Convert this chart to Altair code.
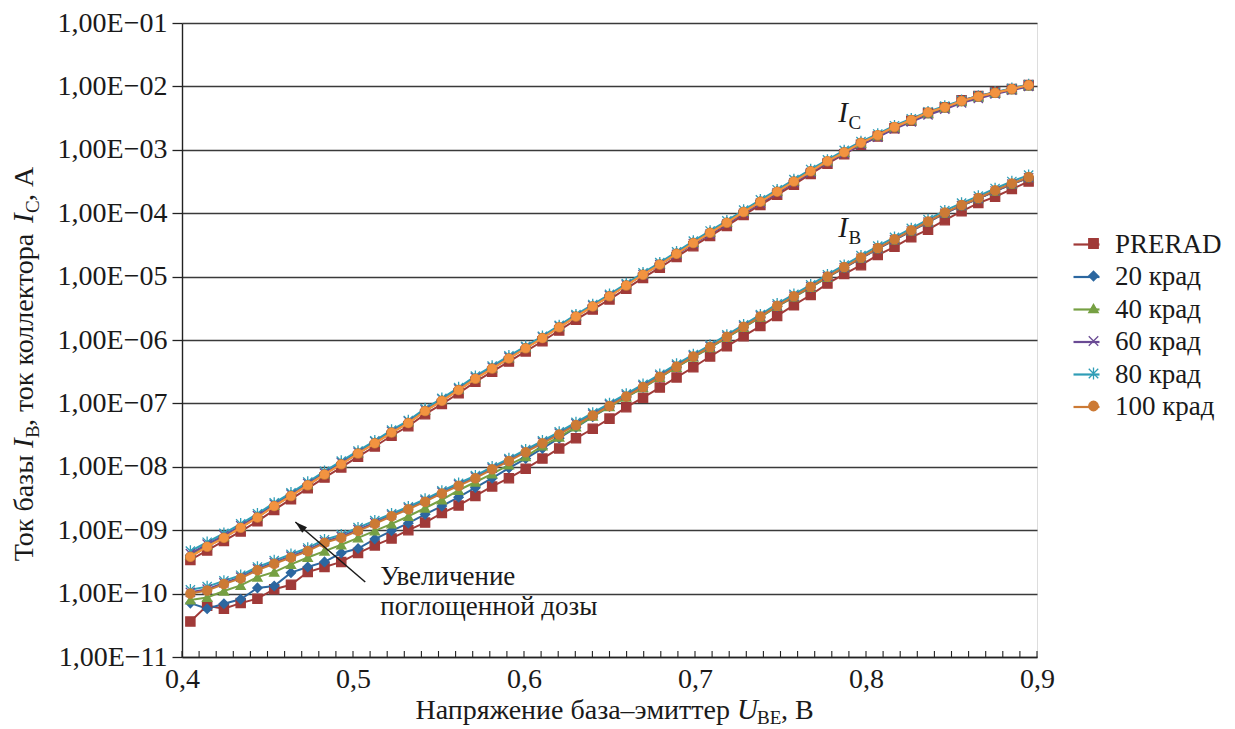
import altair as alt
import pandas as pd

# ---------------- data ----------------
SERIES = ["PRERAD", "20 крад", "40 крад", "60 крад", "80 крад", "100 крад"]

U_BE = [0.40, 0.41, 0.42, 0.43, 0.44, 0.45, 0.46, 0.47, 0.48, 0.49,
        0.50, 0.51, 0.52, 0.53, 0.54, 0.55, 0.56, 0.57, 0.58, 0.59,
        0.60, 0.61, 0.62, 0.63, 0.64, 0.65, 0.66, 0.67, 0.68, 0.69,
        0.70, 0.71, 0.72, 0.73, 0.74, 0.75, 0.76, 0.77, 0.78, 0.79,
        0.80, 0.81, 0.82, 0.83, 0.84, 0.85, 0.86, 0.87, 0.88, 0.89, 0.90]

# collector current, log10(A)
IC_PRERAD = [-9.47, -9.32, -9.17, -9.02, -8.86, -8.68, -8.51, -8.34, -8.17, -8.01,
             -7.84, -7.68, -7.51, -7.36, -7.17, -7.01, -6.84, -6.66, -6.50, -6.34,
             -6.18, -6.02, -5.85, -5.68, -5.52, -5.36, -5.19, -5.02, -4.86, -4.69,
             -4.52, -4.36, -4.20, -4.03, -3.87, -3.71, -3.55, -3.38, -3.22, -3.07,
             -2.92, -2.79, -2.66, -2.54, -2.42, -2.33, -2.22, -2.15, -2.09, -2.04, -1.98]
IC_20 = [-9.40, -9.25, -9.10, -8.95, -8.79, -8.61, -8.45, -8.28, -8.11, -7.95,
         -7.78, -7.62, -7.45, -7.30, -7.11, -6.95, -6.78, -6.60, -6.44, -6.28,
         -6.12, -5.96, -5.79, -5.62, -5.46, -5.30, -5.13, -4.96, -4.80, -4.63,
         -4.46, -4.30, -4.14, -3.97, -3.81, -3.65, -3.49, -3.33, -3.18, -3.03,
         -2.89, -2.77, -2.64, -2.53, -2.42, -2.33, -2.23, -2.16, -2.10, -2.04, -1.98]
IC_40 = [-9.39, -9.24, -9.10, -8.94, -8.78, -8.61, -8.44, -8.28, -8.11, -7.94,
         -7.78, -7.61, -7.45, -7.29, -7.11, -6.94, -6.78, -6.60, -6.44, -6.28,
         -6.12, -5.96, -5.79, -5.62, -5.46, -5.30, -5.13, -4.96, -4.80, -4.63,
         -4.46, -4.30, -4.14, -3.97, -3.81, -3.65, -3.49, -3.34, -3.18, -3.04,
         -2.90, -2.78, -2.65, -2.54, -2.43, -2.34, -2.24, -2.17, -2.11, -2.05, -1.99]
IC_60 = [-9.37, -9.22, -9.08, -8.93, -8.77, -8.59, -8.43, -8.26, -8.10, -7.93,
         -7.77, -7.60, -7.44, -7.28, -7.10, -6.93, -6.77, -6.59, -6.43, -6.27,
         -6.11, -5.95, -5.78, -5.62, -5.46, -5.30, -5.13, -4.97, -4.81, -4.65,
         -4.48, -4.33, -4.17, -4.00, -3.84, -3.68, -3.52, -3.36, -3.20, -3.06,
         -2.92, -2.80, -2.67, -2.56, -2.45, -2.36, -2.26, -2.19, -2.12, -2.06, -2.00]
IC_80 = [-9.33, -9.19, -9.05, -8.90, -8.74, -8.57, -8.41, -8.24, -8.07, -7.91,
         -7.75, -7.59, -7.42, -7.27, -7.08, -6.92, -6.75, -6.57, -6.41, -6.25,
         -6.10, -5.94, -5.77, -5.60, -5.44, -5.28, -5.11, -4.94, -4.78, -4.61,
         -4.44, -4.28, -4.12, -3.95, -3.79, -3.63, -3.47, -3.31, -3.16, -3.01,
         -2.87, -2.75, -2.62, -2.51, -2.40, -2.31, -2.22, -2.15, -2.09, -2.03, -1.97]
IC_100 = [-9.42, -9.26, -9.12, -8.96, -8.80, -8.62, -8.46, -8.29, -8.12, -7.96,
          -7.79, -7.63, -7.46, -7.31, -7.12, -6.96, -6.79, -6.61, -6.45, -6.29,
          -6.13, -5.97, -5.80, -5.63, -5.47, -5.31, -5.14, -4.97, -4.81, -4.64,
          -4.47, -4.31, -4.15, -3.98, -3.82, -3.66, -3.50, -3.34, -3.18, -3.04,
          -2.89, -2.77, -2.64, -2.53, -2.41, -2.33, -2.23, -2.16, -2.10, -2.04, -1.98]

# base current, log10(A)
IB_PRERAD = [-10.44, -10.19, -10.24, -10.15, -10.08, -9.93, -9.86, -9.66, -9.58, -9.50,
             -9.36, -9.24, -9.13, -9.00, -8.88, -8.73, -8.61, -8.46, -8.31, -8.18,
             -8.03, -7.87, -7.71, -7.55, -7.40, -7.24, -7.06, -6.91, -6.75, -6.59,
             -6.43, -6.26, -6.10, -5.94, -5.78, -5.62, -5.45, -5.29, -5.11, -4.96,
             -4.82, -4.66, -4.53, -4.38, -4.26, -4.11, -3.97, -3.84, -3.74, -3.62, -3.50]
IB_20 = [-10.15, -10.24, -10.16, -10.09, -9.91, -9.88, -9.67, -9.58, -9.50, -9.36,
         -9.29, -9.14, -9.01, -8.89, -8.75, -8.62, -8.48, -8.33, -8.18, -8.02,
         -7.87, -7.71, -7.55, -7.38, -7.21, -7.05, -6.90, -6.75, -6.59, -6.43,
         -6.27, -6.12, -5.96, -5.80, -5.64, -5.47, -5.32, -5.17, -5.01, -4.86,
         -4.71, -4.56, -4.42, -4.28, -4.14, -4.00, -3.88, -3.77, -3.65, -3.54, -3.44]
IB_40 = [-10.10, -10.06, -9.96, -9.87, -9.74, -9.66, -9.54, -9.43, -9.33, -9.23,
         -9.12, -9.01, -8.90, -8.78, -8.65, -8.52, -8.37, -8.24, -8.11, -7.97,
         -7.84, -7.67, -7.53, -7.37, -7.20, -7.05, -6.90, -6.75, -6.59, -6.43,
         -6.27, -6.12, -5.96, -5.80, -5.64, -5.47, -5.32, -5.17, -5.01, -4.86,
         -4.71, -4.56, -4.42, -4.28, -4.14, -4.00, -3.88, -3.77, -3.65, -3.54, -3.44]
IB_60 = [-9.98, -9.93, -9.83, -9.74, -9.61, -9.51, -9.41, -9.31, -9.18, -9.10,
         -8.99, -8.88, -8.76, -8.65, -8.53, -8.40, -8.28, -8.16, -8.02, -7.89,
         -7.75, -7.61, -7.47, -7.32, -7.17, -7.02, -6.87, -6.72, -6.56, -6.40,
         -6.25, -6.10, -5.94, -5.78, -5.62, -5.46, -5.31, -5.16, -5.00, -4.86,
         -4.71, -4.56, -4.42, -4.28, -4.14, -4.00, -3.88, -3.77, -3.65, -3.54, -3.44]
IB_80 = [-9.94, -9.89, -9.80, -9.71, -9.58, -9.48, -9.38, -9.28, -9.15, -9.07,
         -8.96, -8.85, -8.74, -8.63, -8.51, -8.38, -8.26, -8.14, -8.00, -7.87,
         -7.73, -7.59, -7.45, -7.30, -7.15, -7.00, -6.85, -6.70, -6.54, -6.38,
         -6.23, -6.08, -5.92, -5.76, -5.60, -5.43, -5.28, -5.13, -4.97, -4.82,
         -4.67, -4.52, -4.38, -4.24, -4.10, -3.96, -3.84, -3.73, -3.61, -3.50, -3.40]
IB_100 = [-10.00, -9.95, -9.85, -9.76, -9.63, -9.53, -9.43, -9.33, -9.20, -9.12,
          -9.01, -8.90, -8.78, -8.67, -8.55, -8.42, -8.30, -8.18, -8.04, -7.91,
          -7.77, -7.63, -7.49, -7.34, -7.19, -7.04, -6.89, -6.74, -6.58, -6.42,
          -6.26, -6.11, -5.95, -5.79, -5.63, -5.46, -5.31, -5.16, -5.00, -4.85,
          -4.70, -4.55, -4.41, -4.27, -4.13, -3.99, -3.87, -3.76, -3.64, -3.53, -3.43]

IC_LOG = dict(zip(SERIES, [IC_PRERAD, IC_20, IC_40, IC_60, IC_80, IC_100]))
IB_LOG = dict(zip(SERIES, [IB_PRERAD, IB_20, IB_40, IB_60, IB_80, IB_100]))

# annotations (data coordinates)
ANN_I_X = [0.7865, 0.7865]
ANN_I_LOG = [-2.56, -4.37]
ANN_SUB_X = [0.7925, 0.7925]
ANN_SUB_LOG = [-2.67, -4.49]
ANN_SUB_TEXT = ["C", "B"]
NOTE_TEXT = ["Увеличение", "поглощенной дозы"]
NOTE_X = [0.5133, 0.5133]
NOTE_LOG = [-9.87, -10.33]
ARROW_X = [0.5043, 0.4626]
ARROW_LOG = [-9.817, -8.870]

# ---------------- styling ----------------
FONT = "Liberation Serif"
TXT = "#1a1a1a"
AX = "#222222"
GRID = "#3a3a3a"
COLORS = ["#A03A38", "#2C67A0", "#76A043", "#6A4B94", "#2F9DB6", "#CC7A35"]
IC_ORANGE = "#F29340"
X_PATH = "M-1,-1L1,1M-1,1L1,-1"
AST_PATH = "M-1,-1L1,1M-1,1L1,-1M0,-1.25L0,1.25"
SHAPES = ["square", "diamond", "triangle-up", X_PATH, AST_PATH, "circle"]
W, H = 855, 634

rows = []
for curve, table in (("IC", IC_LOG), ("IB", IB_LOG)):
    for k, s in enumerate(SERIES):
        for u, e in zip(U_BE, table[s]):
            rows.append({"U": u, "I": 10.0 ** e, "series": s, "series_l": s,
                         "curve": curve, "k": k})
df = pd.DataFrame(rows)

XSCALE = alt.Scale(domain=[0.395, 0.905], nice=False, zero=False)
YSCALE = alt.Scale(type="log", domain=[1e-11, 1e-1], nice=False)
XLAB = [round(0.395 + 0.102 * k, 4) for k in range(6)]
TICK_X = [round(0.395 + 0.0102 * j, 4) for j in range(51)]
YTICKS = [1e-11, 1e-10, 1e-9, 1e-8, 1e-7, 1e-6, 1e-5, 1e-4, 1e-3, 1e-2, 1e-1]

X = alt.X("U:Q", scale=XSCALE, axis=alt.Axis(
    values=XLAB, title=None, grid=False, ticks=False,
    labelExpr="replace(format(0.4 + round((datum.value - 0.395) / 0.102) / 10, '.1f'), '.', ',')",
    labelFont=FONT, labelFontSize=28, labelColor=TXT, labelPadding=8,
    labelFlush=False, labelOverlap=False, domainColor=AX, domainWidth=1.4))
Y = alt.Y("I:Q", scale=YSCALE, axis=alt.Axis(
    values=YTICKS, title=None, grid=True, gridColor=GRID, gridWidth=1.3,
    tickSize=10, tickColor=AX, tickWidth=1.3,
    labelExpr="'1,00E\u2212' + (round(-log(datum.value)/LN10) < 10 ? '0' : '') + round(-log(datum.value)/LN10)",
    labelFont=FONT, labelFontSize=28, labelColor=TXT, labelPadding=5,
    labelFlush=False, labelOverlap=False, domainColor=AX, domainWidth=1.4))

base = alt.Chart(df)

LEG_COMMON = dict(title=None, orient="none", legendY=207, labelFont=FONT,
                  labelFontSize=27, labelColor=TXT, rowPadding=4.5)

lines = base.mark_line(strokeWidth=2).encode(
    x=X, y=Y,
    color=alt.Color("series_l:N", sort=SERIES, scale=alt.Scale(range=COLORS),
                    legend=alt.Legend(legendX=890, symbolType="stroke", symbolSize=676,
                                      symbolStrokeWidth=2.2, labelOffset=14, **LEG_COMMON)),
    detail="curve:N",
)

LEG2 = alt.Legend(legendX=898, symbolSize=90, symbolStrokeWidth=1.3, labelOffset=14,
                  labelExpr="' '", **LEG_COMMON)
points = base.mark_point(filled=False, size=85, strokeWidth=1.3, opacity=1).encode(
    x=X, y=Y,
    shape=alt.Shape("series:N", scale=alt.Scale(domain=SERIES, range=SHAPES), legend=LEG2),
    stroke=alt.Stroke("series:N", scale=alt.Scale(domain=SERIES, range=COLORS), legend=LEG2),
    fill=alt.Fill("series:N", scale=alt.Scale(domain=SERIES, range=COLORS), legend=LEG2),
    order=alt.Order("k:Q"),
)

ic100 = base.transform_filter("datum.curve == 'IC' && datum.k == 5")
ic100_line = ic100.mark_line(color=IC_ORANGE, strokeWidth=2).encode(x=X, y=Y)
ic100_pts = ic100.mark_point(shape="circle", filled=True, color=IC_ORANGE,
                             size=85, opacity=1).encode(x=X, y=Y)

ticks = alt.Chart(pd.DataFrame({"t": TICK_X})).mark_rule(color=AX, strokeWidth=1.1).encode(
    x=alt.X("t:Q", scale=XSCALE), y=alt.value(H - 6), y2=alt.value(H))

# I_C / I_B labels
ann_i = alt.Chart(pd.DataFrame({"x": ANN_I_X, "y": [10.0 ** v for v in ANN_I_LOG]})).mark_text(
    text="I", font=FONT, fontSize=29, fontStyle="italic", align="left",
    baseline="alphabetic", color=TXT).encode(x=alt.X("x:Q", scale=XSCALE), y=alt.Y("y:Q", scale=YSCALE))
ann_sub = alt.Chart(pd.DataFrame({"x": ANN_SUB_X, "y": [10.0 ** v for v in ANN_SUB_LOG],
                                  "t": ANN_SUB_TEXT})).mark_text(
    font=FONT, fontSize=19, align="left", baseline="alphabetic", color=TXT).encode(
    x=alt.X("x:Q", scale=XSCALE), y=alt.Y("y:Q", scale=YSCALE), text="t:N")

note = alt.Chart(pd.DataFrame({"x": NOTE_X, "y": [10.0 ** v for v in NOTE_LOG],
                               "t": NOTE_TEXT})).mark_text(
    font=FONT, fontSize=27, align="left", baseline="alphabetic", color=TXT).encode(
    x=alt.X("x:Q", scale=XSCALE), y=alt.Y("y:Q", scale=YSCALE), text="t:N")

arrow_df = pd.DataFrame({"x": ARROW_X[:1], "y": [10.0 ** ARROW_LOG[0]],
                         "x2": ARROW_X[1:], "y2": [10.0 ** ARROW_LOG[1]]})
arrow_line = alt.Chart(arrow_df).mark_rule(color=TXT, strokeWidth=1.5).encode(
    x=alt.X("x:Q", scale=XSCALE), y=alt.Y("y:Q", scale=YSCALE), x2="x2:Q", y2="y2:Q")
arrow_head = alt.Chart(arrow_df).mark_point(
    shape="M0,0L0.6,2L-0.6,2Z", filled=True, color=TXT, size=150, opacity=1, angle=310.6).encode(
    x=alt.X("x2:Q", scale=XSCALE), y=alt.Y("y2:Q", scale=YSCALE))

# axis titles with italic symbols and subscripts (pixel positions in the plot frame)
TITLE_NORMAL = pd.DataFrame({
    "t": ["Напряжение база\u2013эмиттер", "BE", ", В",
          "Ток базы", "B", ", ток коллектора", "C", ", А"],
    "px": [548, 575, 599, -149, -143, -149, -143, -149],
    "py": [696, 701, 696, 432, 415, 403, 190, 178],
    "a": [0, 0, 0, 270, 270, 270, 270, 270],
    "s": [28, 19, 28, 28, 19, 28, 19, 28],
    "al": ["right", "left", "left", "right", "left", "left", "left", "left"],
})
TITLE_ITALIC = pd.DataFrame({
    "t": ["U", "I", "I"],
    "px": [555, -149, -149],
    "py": [696, 425, 200],
    "a": [0, 270, 270],
    "s": [29, 29, 29],
    "al": ["left", "left", "left"],
})


def title_layer(d, italic, align):
    dd = d[d["al"] == align]
    return alt.Chart(dd).mark_text(
        font=FONT, baseline="alphabetic", align=align, color=TXT,
        fontStyle="italic" if italic else "normal").encode(
        x=alt.X("px:Q", scale=None), y=alt.Y("py:Q", scale=None),
        text="t:N", angle=alt.Angle("a:Q", scale=None),
        size=alt.Size("s:Q", scale=None, legend=None))


tl_right = title_layer(TITLE_NORMAL, False, "right")
tl_left = title_layer(TITLE_NORMAL, False, "left")
tl_ital = title_layer(TITLE_ITALIC, True, "left")

chart = alt.layer(
    lines, points, ic100_line, ic100_pts, ticks,
    ann_i, ann_sub, note, arrow_line, arrow_head,
    tl_right, tl_left, tl_ital,
).properties(
    width=W, height=H,
    autosize=alt.AutoSizeParams(type="none"),
    padding={"left": 174, "top": 15, "right": 190, "bottom": 72},
).configure_view(stroke=None).configure(background="white")

chart.save("out.html", embed_options={"renderer": "svg", "actions": False})
